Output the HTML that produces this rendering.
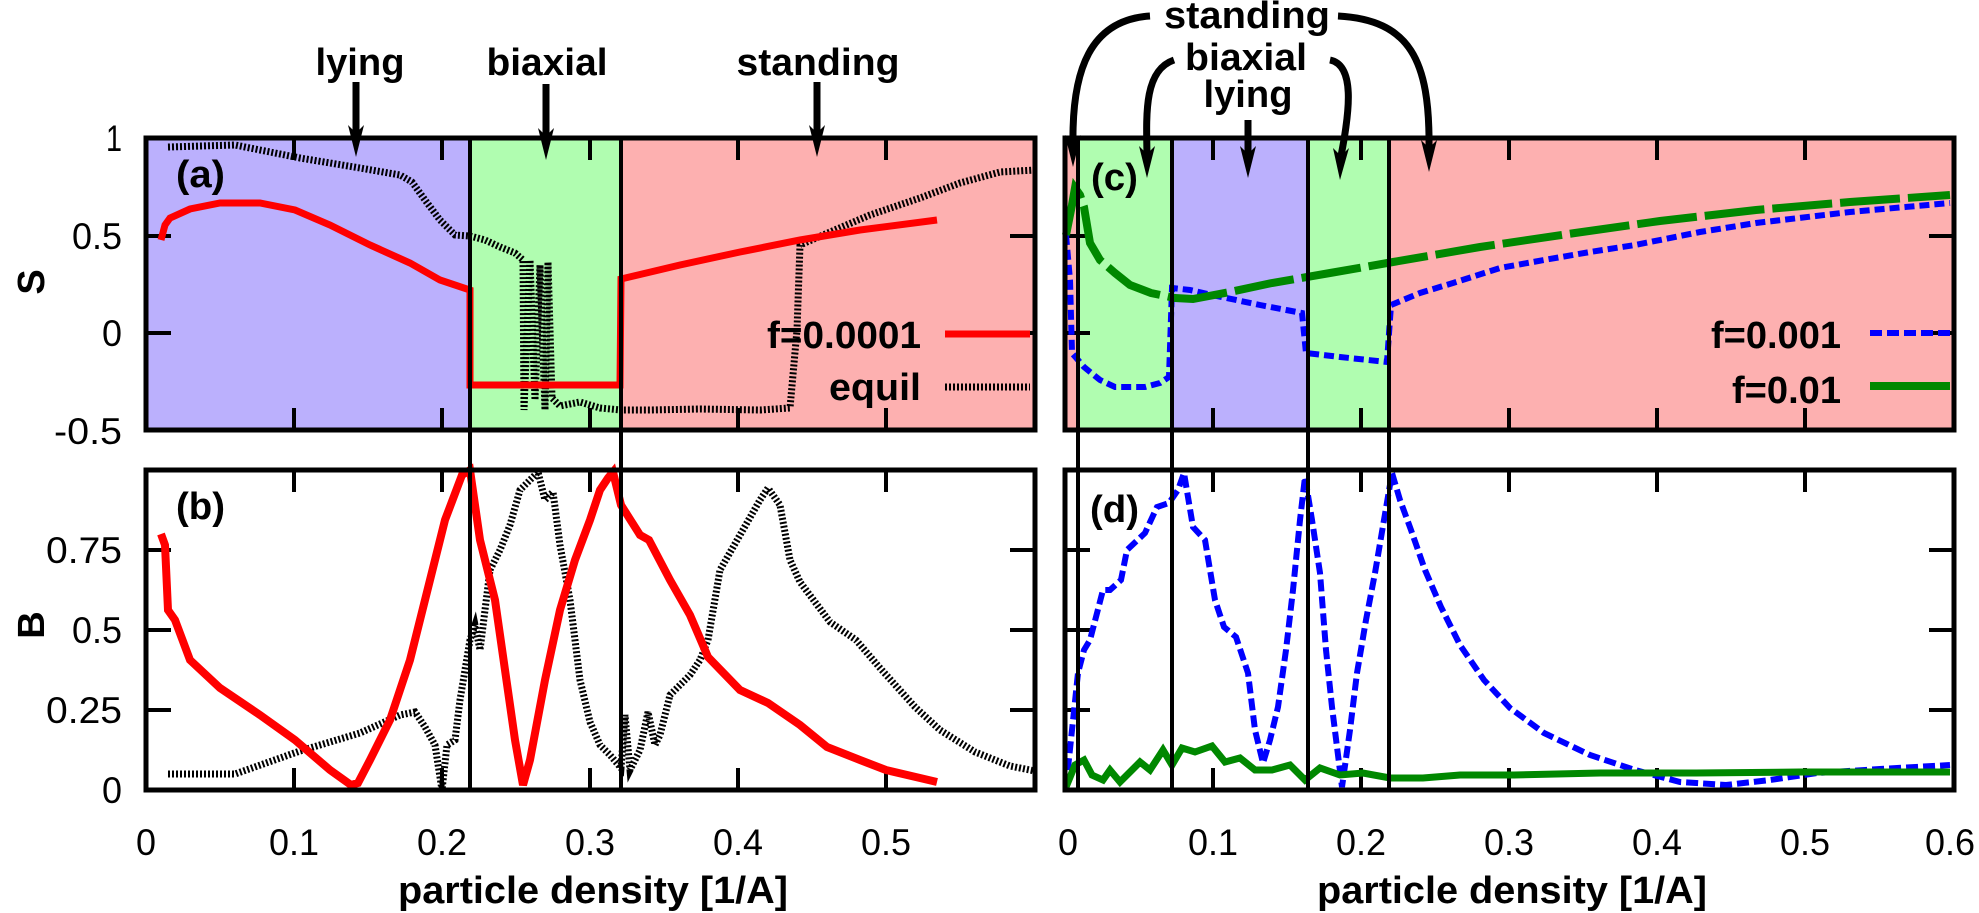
<!DOCTYPE html>
<html><head><meta charset="utf-8"><style>
html,body{margin:0;padding:0;background:#fff;}
svg{display:block;}
text{font-family:"Liberation Sans",sans-serif;fill:#000;}
.t{font-size:37px;}
.b{font-size:38px;font-weight:bold;}
</style></head><body>
<svg width="1979" height="913" viewBox="0 0 1979 913" xmlns="http://www.w3.org/2000/svg">
<!-- backgrounds -->
<rect x="146" y="138" width="324" height="292" fill="#bbb0fd"/>
<rect x="470" y="138" width="151" height="292" fill="#b0fdb0"/>
<rect x="621" y="138" width="414" height="292" fill="#fdb0b0"/>
<rect x="1065" y="138" width="13" height="292" fill="#fdb0b0"/>
<rect x="1078" y="138" width="94" height="292" fill="#b0fdb0"/>
<rect x="1172" y="138" width="136" height="292" fill="#bbb0fd"/>
<rect x="1308" y="138" width="81" height="292" fill="#b0fdb0"/>
<rect x="1389" y="138" width="565" height="292" fill="#fdb0b0"/>

<!-- ticks -->
<g stroke="#000" stroke-width="4">
<path d="M294,138v22M442,138v22M590,138v22M738,138v22M886,138v22M294,430v-22M442,430v-22M590,430v-22M738,430v-22M886,430v-22"/>
<path d="M294,470v22M442,470v22M590,470v22M738,470v22M886,470v22M294,790v-22M442,790v-22M590,790v-22M738,790v-22M886,790v-22"/>
<path d="M146,236h25M146,333h25M1035,236h-25M1035,333h-25"/>
<path d="M146,550h25M146,630h25M146,710h25M1035,550h-25M1035,630h-25M1035,710h-25"/>
<path d="M1213,138v22M1361,138v22M1509,138v22M1657,138v22M1805,138v22M1213,430v-22M1361,430v-22M1509,430v-22M1657,430v-22M1805,430v-22"/>
<path d="M1213,470v22M1361,470v22M1509,470v22M1657,470v22M1805,470v22M1213,790v-22M1361,790v-22M1509,790v-22M1657,790v-22M1805,790v-22"/>
<path d="M1065,236h25M1065,333h25M1954,236h-25M1954,333h-25"/>
<path d="M1065,550h25M1065,630h25M1065,710h25M1954,550h-25M1954,630h-25M1954,710h-25"/>
</g>

<!-- left S curves -->
<polyline fill="none" stroke="#000" stroke-width="7" stroke-dasharray="2,2" points="168,147 235,145 300,158 360,168 400,175 412,182 425,200 440,220 455,235 470,236 485,240 500,247 515,253 523,260 524,410 530,260 535,400 540,265 545,410 548,262 552,398 560,406 580,402 600,408 621,410 650,410 700,409 760,410 790,408 797,330 800,245 830,232 870,215 920,198 960,183 1000,172 1035,170"/>
<polyline fill="none" stroke="#f00" stroke-width="7" points="161,240 165,225 170,218 190,209 220,203 260,203 295,210 330,225 370,245 410,263 440,280 470,290 470,385 620,385 621,279 680,265 740,252 800,240 860,230 937,220"/>
<!-- right S curves -->
<polyline fill="none" stroke="#00f" stroke-width="6" stroke-dasharray="10,5" points="1066,235 1070,280 1072,353 1084,367 1100,380 1115,387 1145,387 1160,383 1169,377 1172,288 1190,290 1212,295 1260,305 1302,313 1306,353 1340,357 1387,362 1391,305 1420,293 1453,283 1500,268 1544,260 1590,252 1635,245 1700,232 1756,223 1850,212 1950,203"/>
<polyline fill="none" stroke="#080" stroke-width="8" stroke-dasharray="60,8" points="1066,235 1072,205 1075,188 1080,195 1084,207 1090,243 1100,260 1115,273 1130,285 1151,293 1175,298 1193,299 1230,292 1272,283 1330,273 1393,262 1480,247 1575,233 1660,221 1756,210 1850,202 1950,195"/>

<!-- left B curves -->
<polyline fill="none" stroke="#000" stroke-width="7" stroke-dasharray="2,2" points="168,774 235,774 300,751 360,733 400,715 415,712 425,727 435,745 442,790 447,745 455,740 460,700 470,640 475,625 480,650 490,570 500,550 510,525 520,490 530,480 538,472 545,500 553,492 560,545 570,600 580,680 590,722 600,745 610,755 621,768 625,715 630,770 640,750 648,712 655,745 660,735 670,695 690,675 700,660 708,640 720,570 740,535 760,500 768,488 780,505 790,560 800,582 830,622 856,640 880,668 915,707 940,730 975,752 1010,766 1035,771"/>
<polyline fill="none" stroke="#f00" stroke-width="8" points="161,534 165,545 168,610 175,620 190,660 220,688 260,715 295,740 330,770 351,785 358,783 370,760 390,720 410,660 430,580 445,520 462,475 470,470 480,540 495,600 505,670 515,740 523,785 530,760 545,680 560,610 575,560 590,520 600,490 608,478 613,472 621,505 640,535 649,540 670,580 690,615 708,657 740,690 768,703 800,725 827,747 860,760 886,770 920,778 937,782"/>
<!-- right B curves -->
<polyline fill="none" stroke="#00f" stroke-width="6" stroke-dasharray="12,5" points="1066,787 1072,730 1078,673 1084,650 1090,640 1103,590 1110,590 1121,580 1127,550 1145,533 1157,507 1169,503 1178,490 1184,473 1193,527 1205,540 1215,600 1224,627 1236,637 1248,673 1255,730 1263,763 1270,740 1278,707 1286,650 1293,590 1300,520 1305,477 1312,520 1320,573 1326,650 1332,707 1342,787 1350,730 1357,673 1366,620 1375,573 1384,520 1392,473 1400,500 1411,530 1425,570 1441,607 1460,645 1484,680 1510,708 1544,733 1590,755 1635,770 1680,782 1726,785 1770,780 1817,773 1880,769 1950,765"/>
<polyline fill="none" stroke="#080" stroke-width="7" points="1066,787 1075,765 1084,760 1092,775 1103,780 1110,770 1120,782 1130,772 1140,762 1150,770 1163,750 1172,765 1182,748 1195,752 1212,746 1225,762 1240,758 1255,770 1272,770 1290,765 1305,780 1320,768 1340,775 1363,773 1390,778 1423,778 1460,775 1514,775 1600,773 1696,773 1800,772 1950,772"/>

<!-- frames -->
<g fill="none" stroke="#000" stroke-width="5">
<rect x="146" y="138" width="889" height="292"/>
<rect x="146" y="470" width="889" height="320"/>
<rect x="1065" y="138" width="889" height="292"/>
<rect x="1065" y="470" width="889" height="320"/>
</g>
<g stroke="#000" stroke-width="4">
<path d="M470,138V790M621,138V790M1078,138V790M1172,138V790M1308,138V790M1389,138V790"/>
</g>

<!-- legends -->
<text class="b" x="921" y="348" text-anchor="end" textLength="154" lengthAdjust="spacingAndGlyphs">f=0.0001</text>
<line x1="945" y1="334" x2="1030" y2="334" stroke="#f00" stroke-width="7"/>
<text class="b" x="921" y="400" text-anchor="end" textLength="92" lengthAdjust="spacingAndGlyphs">equil</text>
<line x1="945" y1="387" x2="1030" y2="387" stroke="#000" stroke-width="7" stroke-dasharray="2,2"/>
<text class="b" x="1841" y="348" text-anchor="end" textLength="130" lengthAdjust="spacingAndGlyphs">f=0.001</text>
<line x1="1870" y1="333" x2="1950" y2="333" stroke="#00f" stroke-width="6" stroke-dasharray="12,5"/>
<text class="b" x="1841" y="403" text-anchor="end" textLength="109" lengthAdjust="spacingAndGlyphs">f=0.01</text>
<line x1="1870" y1="386" x2="1950" y2="386" stroke="#080" stroke-width="8"/>

<!-- panel labels -->
<text class="b" x="176" y="187" font-size="34" textLength="49" lengthAdjust="spacingAndGlyphs">(a)</text>
<text class="b" x="176" y="519" font-size="34" textLength="49" lengthAdjust="spacingAndGlyphs">(b)</text>
<text class="b" x="1091" y="190" font-size="34" textLength="47" lengthAdjust="spacingAndGlyphs">(c)</text>
<text class="b" x="1090" y="522" font-size="34" textLength="49" lengthAdjust="spacingAndGlyphs">(d)</text>

<!-- y tick labels -->
<g class="t" text-anchor="end">
<text x="122" y="151" textLength="16" lengthAdjust="spacingAndGlyphs">1</text>
<text x="122" y="249" textLength="50" lengthAdjust="spacingAndGlyphs">0.5</text>
<text x="122" y="346" textLength="20" lengthAdjust="spacingAndGlyphs">0</text>
<text x="122" y="444" textLength="68" lengthAdjust="spacingAndGlyphs">-0.5</text>
<text x="122" y="563" textLength="76" lengthAdjust="spacingAndGlyphs">0.75</text>
<text x="122" y="643" textLength="50" lengthAdjust="spacingAndGlyphs">0.5</text>
<text x="122" y="723" textLength="76" lengthAdjust="spacingAndGlyphs">0.25</text>
<text x="122" y="803" textLength="20" lengthAdjust="spacingAndGlyphs">0</text>
</g>
<!-- x tick labels -->
<g class="t" text-anchor="middle">
<text x="146" y="855" textLength="20" lengthAdjust="spacingAndGlyphs">0</text>
<text x="294" y="855" textLength="50" lengthAdjust="spacingAndGlyphs">0.1</text>
<text x="442" y="855" textLength="50" lengthAdjust="spacingAndGlyphs">0.2</text>
<text x="590" y="855" textLength="50" lengthAdjust="spacingAndGlyphs">0.3</text>
<text x="738" y="855" textLength="50" lengthAdjust="spacingAndGlyphs">0.4</text>
<text x="886" y="855" textLength="50" lengthAdjust="spacingAndGlyphs">0.5</text>
<text x="1068" y="855" textLength="20" lengthAdjust="spacingAndGlyphs">0</text>
<text x="1213" y="855" textLength="50" lengthAdjust="spacingAndGlyphs">0.1</text>
<text x="1361" y="855" textLength="50" lengthAdjust="spacingAndGlyphs">0.2</text>
<text x="1509" y="855" textLength="50" lengthAdjust="spacingAndGlyphs">0.3</text>
<text x="1657" y="855" textLength="50" lengthAdjust="spacingAndGlyphs">0.4</text>
<text x="1805" y="855" textLength="50" lengthAdjust="spacingAndGlyphs">0.5</text>
<text x="1950" y="855" textLength="50" lengthAdjust="spacingAndGlyphs">0.6</text>
</g>
<!-- axis titles -->
<text class="b" x="593" y="903" text-anchor="middle" textLength="390" lengthAdjust="spacingAndGlyphs">particle density [1/A]</text>
<text class="b" x="1512" y="903" text-anchor="middle" textLength="390" lengthAdjust="spacingAndGlyphs">particle density [1/A]</text>
<text class="b" transform="translate(44,282) rotate(-90)" text-anchor="middle" font-size="40">S</text>
<text class="b" transform="translate(44,625) rotate(-90)" text-anchor="middle" font-size="40">B</text>

<!-- top labels left -->
<text class="b" x="360" y="75" text-anchor="middle" font-size="40" textLength="89" lengthAdjust="spacingAndGlyphs">lying</text>
<text class="b" x="547" y="75" text-anchor="middle" font-size="40" textLength="121" lengthAdjust="spacingAndGlyphs">biaxial</text>
<text class="b" x="818" y="75" text-anchor="middle" font-size="40" textLength="163" lengthAdjust="spacingAndGlyphs">standing</text>
<g stroke="#000" stroke-width="7" fill="none">
<path d="M356,82V133"/>
<path d="M546,84V136"/>
<path d="M817,82V133"/>
</g>
<g fill="#000">
<polygon points="348,125 356,133 364,125 356,157"/>
<polygon points="538,128 546,136 554,128 546,160"/>
<polygon points="809,125 817,133 825,125 817,157"/>
</g>
<!-- top labels right -->
<text class="b" x="1247" y="28" text-anchor="middle" font-size="40" textLength="166" lengthAdjust="spacingAndGlyphs">standing</text>
<text class="b" x="1246" y="70" text-anchor="middle" font-size="40" textLength="122" lengthAdjust="spacingAndGlyphs">biaxial</text>
<text class="b" x="1248" y="107" text-anchor="middle" font-size="40" textLength="89" lengthAdjust="spacingAndGlyphs">lying</text>
<g stroke="#000" stroke-width="7" fill="none">
<path d="M1248,120V154"/>
<path d="M1150,16 C1090,20 1072,70 1073,143"/>
<path d="M1338,16 C1410,20 1430,60 1429,148"/>
<path d="M1174,60 C1145,70 1146,110 1147,154"/>
<path d="M1330,60 C1355,65 1350,110 1341,156"/>
</g>
<g fill="#000">
<polygon points="1240,146 1248,154 1256,146 1248,178"/>
<polygon points="1065,135 1073,143 1081,135 1073,167"/>
<polygon points="1421,140 1429,148 1437,140 1429,172"/>
<polygon points="1139,146 1147,154 1155,146 1147,178"/>
<polygon points="1333,148 1341,156 1349,148 1340,180"/>
</g>
</svg>
</body></html>
